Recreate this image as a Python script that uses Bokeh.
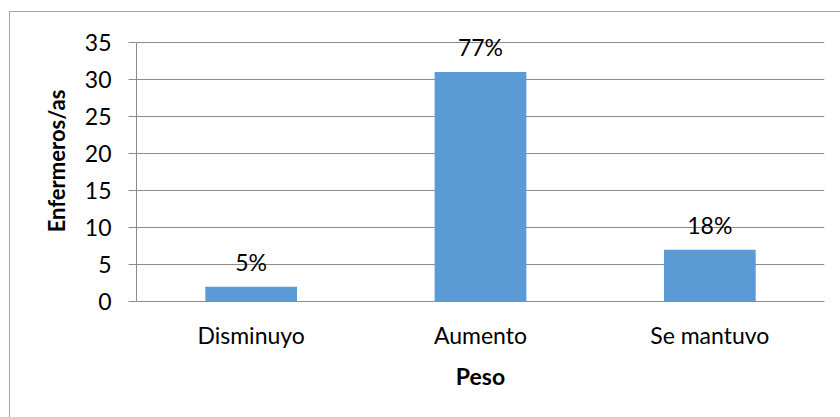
from bokeh.plotting import figure
from bokeh.models import ColumnDataSource, FactorRange, Range1d, FixedTicker, LabelSet
from bokeh.core.properties import value
from bokeh.embed import file_html
from bokeh.resources import INLINE

categories = ["Disminuyo", "Aumento", "Se mantuvo"]
counts = [2, 31, 7]
pct_labels = ["5%", "77%", "18%"]
y_ticks = [0, 5, 10, 15, 20, 25, 30, 35]

FONT = "Lato"
BAR = "#5B9BD5"
GRID = "#8C8C8C"
FS = "23px"

# frame: 281 px tall, of which the lower 259 px hold 0..35 (headroom for labels)
y_max = 35
y_end = y_max * 281 / 259

src = ColumnDataSource(dict(cat=categories, val=counts, lab=pct_labels))

p = figure(x_range=FactorRange(*categories, range_padding=0), y_range=Range1d(0, y_end),
           width=831, height=406, output_backend="svg", toolbar_location=None,
           min_border_left=126, min_border_right=17, min_border_top=8, min_border_bottom=117)
p.margin = (11, 0, 0, 9)
p.styles = {"border-top": "1px solid #A6A6A6", "border-left": "1px solid #A6A6A6"}
p.outline_line_color = None
p.background_fill_color = "white"
p.border_fill_color = "white"

p.vbar(x="cat", top="val", width=0.4, source=src, fill_color=BAR, line_color=None)
labels = LabelSet(x="cat", y="val", text="lab", source=src, text_align="center",
                  text_baseline="middle", y_offset=25, text_font=value(FONT),
                  text_font_size=value(FS), text_color="black")
p.add_layout(labels)

p.xgrid.grid_line_color = None
p.ygrid.grid_line_color = GRID
p.ygrid.ticker = FixedTicker(ticks=y_ticks)

p.yaxis.ticker = FixedTicker(ticks=y_ticks)
p.yaxis.bounds = (0, y_max)
p.yaxis.axis_line_color = GRID
p.yaxis.major_tick_line_color = GRID
p.yaxis.major_tick_out = 8
p.yaxis.major_tick_in = 0
p.yaxis.minor_tick_line_color = None
p.yaxis.major_label_text_font = FONT
p.yaxis.major_label_text_font_size = FS
p.yaxis.major_label_text_color = "black"
p.yaxis.major_label_standoff = 17
p.yaxis.axis_label = "Enfermeros/as"
p.yaxis.axis_label_text_font = FONT
p.yaxis.axis_label_text_font_style = "bold"
p.yaxis.axis_label_text_font_size = "22px"
p.yaxis.axis_label_text_color = "black"
p.yaxis.axis_label_standoff = 12

p.xaxis.axis_line_color = GRID
p.xaxis.major_tick_line_color = None
p.xaxis.major_tick_out = 0
p.xaxis.major_tick_in = 0
p.xaxis.minor_tick_line_color = None
p.xaxis.major_label_text_font = FONT
p.xaxis.major_label_text_font_size = FS
p.xaxis.major_label_text_color = "black"
p.xaxis.major_label_standoff = 19
p.xaxis.axis_label = "Peso"
p.xaxis.axis_label_text_font = FONT
p.xaxis.axis_label_text_font_style = "bold"
p.xaxis.axis_label_text_font_size = FS
p.xaxis.axis_label_text_color = "black"
p.xaxis.axis_label_standoff = 10

open("out.html", "w").write(file_html(p, INLINE))
